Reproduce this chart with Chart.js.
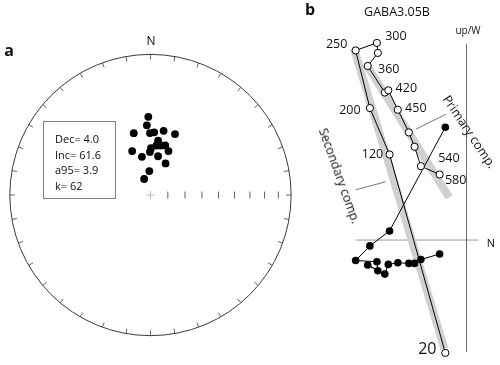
<!DOCTYPE html>
<html>
<head>
<meta charset="utf-8">
<script src="https://cdn.jsdelivr.net/npm/chart.js"></script>
<style>
  body { margin: 0; background: #fff; font-family: "Open Sans", Arial, sans-serif; color: #111; }
  #wrap { position: relative; width: 500px; height: 365px; overflow: hidden; }
  canvas { position: absolute; top: 0; }
  .lbl { position: absolute; transform: translate(-50%, -50%); white-space: nowrap; line-height: 1; }
  .panel { font-weight: bold; font-size: 16px; }
  #statBox {
    position: absolute; left: 43px; top: 121px; width: 73px; height: 78px;
    border: 1px solid #808080; box-sizing: border-box;
    font-size: 11px; line-height: 15.6px; padding: 9px 0 0 11px;
  }
</style>
</head>
<body>
<div id="wrap">
  <canvas id="stereo" width="300" height="365" style="left:0"></canvas>
  <canvas id="zijd" width="200" height="365" style="left:300px"></canvas>

  <div class="lbl panel" style="left:9px; top:50px;">a</div>
  <div class="lbl" style="left:151px; top:41px; font-size:12px;">N</div>
  <div id="statBox">Dec= 4.0<br>Inc= 61.6<br>a95= 3.9<br>k= 62</div>

  <div class="lbl panel" style="left:310px; top:9px;">b</div>
  <div class="lbl" style="left:397px; top:12px; font-size:12.5px;">GABA3.05B</div>
  <div class="lbl" style="left:468px; top:30px; font-size:10px;">up/W</div>
  <div class="lbl" style="left:491px; top:242px; font-size:11px;">N</div>
  <div class="lbl" style="left:469px; top:132px; font-size:12.5px; transform: translate(-50%,-50%) rotate(56deg);">Primary comp.</div>
  <div class="lbl" style="left:339px; top:176px; font-size:12.5px; transform: translate(-50%,-50%) rotate(70.4deg);">Secondary comp.</div>
</div>

<script>
// ---- panel a: site-mean directions (declination / inclination, degrees)
const decs = [358.4, 357.0, 344.8, 359.5, 3.4, 11.6, 22.0, 8.0, 7.0, 11.7,
              16.7, 22.4, 337.3, 347.3, 359.3, 0.6, 11.1, 25.6, 357.2, 338.3];
const incs = [43.9, 49.1, 52.6, 53.9, 53.4, 51.7, 51.6, 58.1, 61.1, 60.7,
              60.0, 62.5, 62.4, 67.4, 65.1, 62.9, 67.2, 69.8, 76.2, 80.1];
const incTicks = [80, 70, 60, 50, 40, 30, 20, 10];

// ---- panel b: demagnetization steps (arbitrary units)
const steps = [20, 120, 200, 250, 300, 330, 360, 390, 420, 450, 480, 510, 540, 580];
const northVals = [-2.23, -8.10, -10.17, -11.67, -9.43, -9.33, -10.40, -8.60, -8.23, -7.23, -6.07, -5.47, -4.80, -2.83];
const upVals = [-11.60, 8.80, 13.57, 19.50, 20.27, 19.24, 17.90, 15.17, 15.40, 13.40, 11.07, 9.60, 7.60, 6.74];
const westVals = [11.60, 0.94, -0.60, -2.10, -2.23, -3.16, -2.56, -3.50, -2.50, -2.33, -2.40, -2.40, -2.00, -1.43];
const labelledSteps = [20, 120, 200, 250, 300, 360, 420, 450, 540, 580];

// fitted components (north, up) end points
const secondaryFit = [[-11.83, 19.67], [-2.33, -11.16]];
const primaryFit = [[-10.5, 18.0], [-1.83, 4.4]];
const secondaryLeader = [[-11.67, 5.17], [-8.5, 6.0]];
const primaryLeader = [[-5.33, 11.4], [-2.17, 12.94]];
const axisNorth = [-11.67, 1.27];
const axisUp = [-11.5, 20.17];

// label offsets in px from their point (styling only)
const labelOffset = {
  20: [-18, -3], 120: [-17, 0], 200: [-20, 2], 250: [-19, -6], 300: [19, -6],
  360: [21, 3], 420: [18, -2], 450: [18, -1], 540: [28, -8], 580: [16, 6]
};

const FONT = '"Open Sans", Arial, sans-serif';

function equalArea(dec, inc) {
  const r = Math.SQRT2 * Math.sin((90 - inc) / 2 * Math.PI / 180);
  const d = dec * Math.PI / 180;
  return { x: r * Math.sin(d), y: r * Math.cos(d) };
}

const stereoNet = {
  id: 'stereoNet',
  beforeDatasetsDraw(chart) {
    const { ctx, scales: { x, y } } = chart;
    const cx = x.getPixelForValue(0), cy = y.getPixelForValue(0);
    const R = x.getPixelForValue(1) - cx;
    ctx.save();
    ctx.strokeStyle = '#3a3a3a';
    ctx.lineWidth = 1;
    ctx.beginPath();
    ctx.arc(cx, cy, R, 0, Math.PI * 2);
    ctx.stroke();
    // ticks every 10 degrees round the primitive
    ctx.lineWidth = 0.8;
    for (let a = 0; a < 360; a += 10) {
      const t = a * Math.PI / 180;
      const sx = Math.sin(t), sy = -Math.cos(t);
      ctx.beginPath();
      ctx.moveTo(cx + sx * R, cy + sy * R);
      ctx.lineTo(cx + sx * (R - 5), cy + sy * (R - 5));
      ctx.stroke();
    }
    // inclination ticks along east radius
    incTicks.forEach(inc => {
      const px = x.getPixelForValue(equalArea(90, inc).x);
      ctx.beginPath();
      ctx.moveTo(px, cy - 3.5);
      ctx.lineTo(px, cy + 3.5);
      ctx.stroke();
    });
    // centre cross
    ctx.strokeStyle = '#aaaaaa';
    ctx.beginPath();
    ctx.moveTo(cx - 4, cy); ctx.lineTo(cx + 4, cy);
    ctx.moveTo(cx, cy - 4); ctx.lineTo(cx, cy + 4);
    ctx.stroke();
    ctx.restore();
  }
};

new Chart(document.getElementById('stereo'), {
  type: 'scatter',
  data: {
    datasets: [{
      data: decs.map((d, i) => equalArea(d, incs[i])),
      pointRadius: 3.9,
      backgroundColor: '#000',
      borderColor: '#000',
      borderWidth: 0,
      clip: false
    }]
  },
  options: {
    responsive: false,
    animation: false,
    events: [],
    layout: { padding: 0 },
    plugins: { legend: { display: false }, tooltip: { enabled: false } },
    scales: {
      x: { display: false, min: -150.5 / 144.5, max: 149.5 / 144.5 },
      y: { display: false, min: -169.7 / 144.5, max: 195.3 / 144.5 }
    }
  },
  plugins: [stereoNet]
});

const zijdAxes = {
  id: 'zijdAxes',
  beforeDatasetsDraw(chart) {
    const { ctx, scales: { x, y } } = chart;
    ctx.save();
    ctx.lineWidth = 1;
    ctx.strokeStyle = '#9a9a9a';
    ctx.beginPath();
    ctx.moveTo(x.getPixelForValue(axisNorth[0]), y.getPixelForValue(0));
    ctx.lineTo(x.getPixelForValue(axisNorth[1]), y.getPixelForValue(0));
    ctx.stroke();
    ctx.strokeStyle = '#6a6a6a';
    ctx.beginPath();
    ctx.moveTo(x.getPixelForValue(0), y.getPixelForValue(axisUp[0]));
    ctx.lineTo(x.getPixelForValue(0), y.getPixelForValue(axisUp[1]));
    ctx.stroke();
    ctx.restore();
  },
  afterDatasetsDraw(chart) {
    const { ctx, scales: { x, y } } = chart;
    ctx.save();
    ctx.fillStyle = '#111';
    ctx.textAlign = 'center';
    ctx.textBaseline = 'middle';
    labelledSteps.forEach(s => {
      const i = steps.indexOf(s);
      const off = labelOffset[s];
      ctx.font = (s === 20 ? '16px ' : '12.5px ') + FONT;
      ctx.fillText(String(s), x.getPixelForValue(northVals[i]) + off[0], y.getPixelForValue(upVals[i]) + off[1]);
    });
    ctx.restore();
  }
};

const toPts = arr => arr.map(p => ({ x: p[0], y: p[1] }));

new Chart(document.getElementById('zijd'), {
  type: 'scatter',
  data: {
    datasets: [
      {
        label: 'vertical',
        data: steps.map((s, i) => ({ x: northVals[i], y: upVals[i] })),
        showLine: true,
        borderColor: '#000',
        borderWidth: 1,
        pointRadius: 3.6,
        pointBackgroundColor: '#fff',
        pointBorderColor: '#000',
        pointBorderWidth: 1,
        clip: false,
        order: 1
      },
      {
        label: 'horizontal',
        data: steps.map((s, i) => ({ x: northVals[i], y: westVals[i] })),
        showLine: true,
        borderColor: '#000',
        borderWidth: 1,
        pointRadius: 3.8,
        pointBackgroundColor: '#000',
        pointBorderColor: '#000',
        pointBorderWidth: 0,
        clip: false,
        order: 2
      },
      {
        label: 'leaders',
        data: [...toPts(secondaryLeader), { x: null, y: null }, ...toPts(primaryLeader)],
        showLine: true,
        spanGaps: false,
        borderColor: '#555',
        borderWidth: 0.8,
        pointRadius: 0,
        clip: false,
        order: 3
      },
      {
        label: 'secondary',
        data: toPts(secondaryFit),
        showLine: true,
        borderColor: '#d0d0d0',
        borderWidth: 8,
        borderCapStyle: 'butt',
        pointRadius: 0,
        clip: false,
        order: 4
      },
      {
        label: 'primary',
        data: toPts(primaryFit),
        showLine: true,
        borderColor: '#d0d0d0',
        borderWidth: 8,
        borderCapStyle: 'butt',
        pointRadius: 0,
        clip: false,
        order: 5
      }
    ]
  },
  options: {
    responsive: false,
    animation: false,
    events: [],
    layout: { padding: 0 },
    plugins: { legend: { display: false }, tooltip: { enabled: false } },
    scales: {
      x: { display: false, min: -17, max: 3 },
      y: { display: false, min: -12.33, max: 24.17 }
    }
  },
  plugins: [zijdAxes]
});
</script>
</body>
</html>
